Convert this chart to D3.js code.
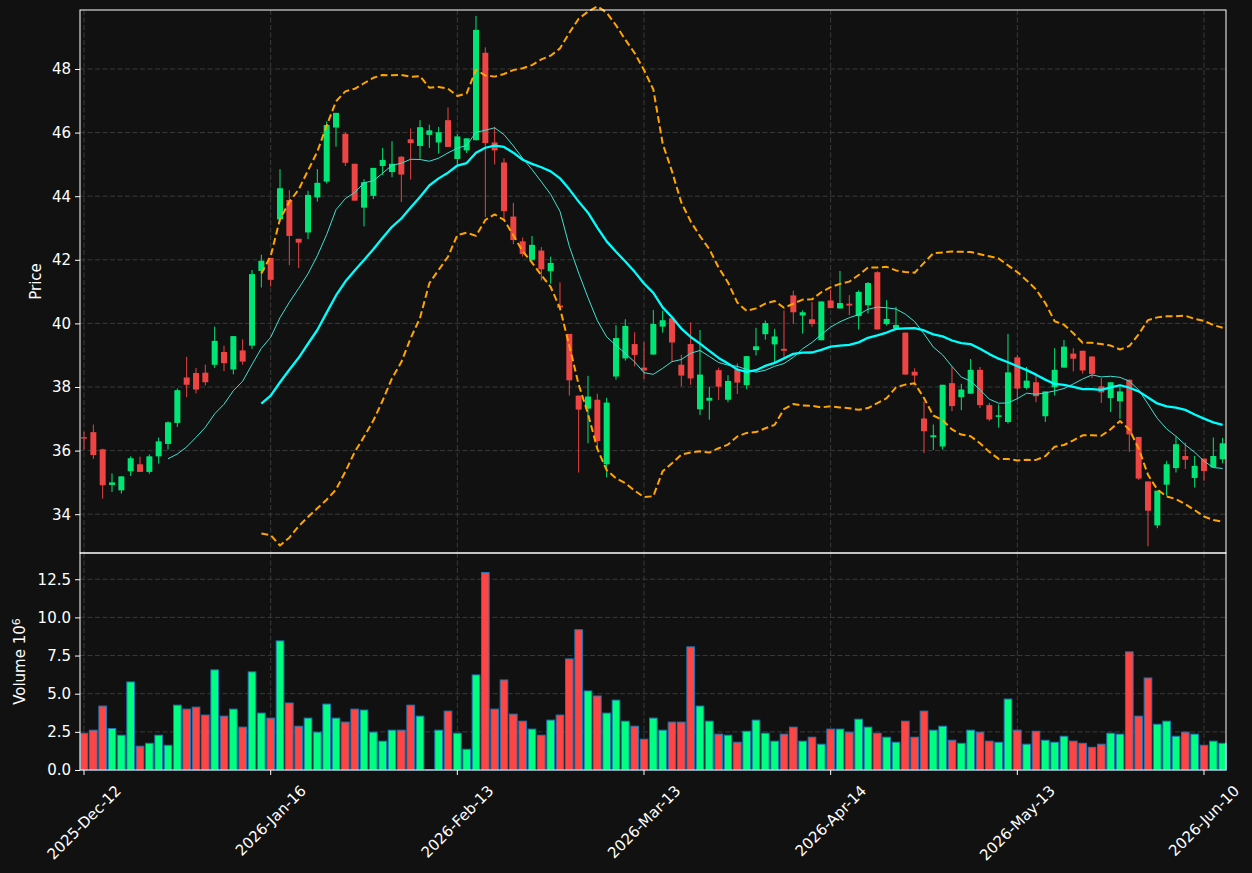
<!DOCTYPE html>
<html>
<head>
<meta charset="utf-8">
<script src="https://cdn.jsdelivr.net/npm/d3@7"></script>
<style>
  body { margin: 0; background: #111111; }
  text { font-family: "DejaVu Sans", sans-serif; }
</style>
</head>
<body>
<svg id="chart" width="1252" height="873"></svg>
<script>
// daily OHLC, 123 sessions
var opens = [36.42,36.58,36.04,34.92,34.75,35.35,35.57,35.33,35.82,36.21,
  36.87,38.30,38.44,38.45,38.70,39.10,38.55,39.15,39.30,41.65,
  42.06,43.27,43.88,42.66,42.86,43.96,44.46,46.16,45.96,45.02,
  43.64,44.01,44.95,44.76,45.24,45.79,45.58,45.93,45.69,46.39,
  45.17,45.44,45.76,48.51,45.69,45.06,43.36,42.58,42.00,42.29,
  41.64,40.56,39.67,37.73,37.32,37.60,35.57,38.33,38.90,39.35,
  38.61,39.02,39.90,40.16,38.70,39.35,37.30,37.57,38.53,37.60,
  38.55,38.06,39.16,39.66,39.34,39.20,40.88,40.25,40.13,39.47,
  40.72,40.47,40.62,40.23,40.57,41.61,39.98,39.84,39.71,38.48,
  37.01,36.42,36.13,38.12,37.68,37.79,38.54,37.43,37.06,36.90,
  38.93,37.97,38.15,37.08,37.99,38.61,39.05,39.14,38.96,38.02,
  37.65,37.55,38.23,36.43,35.03,33.65,34.93,35.45,35.83,35.14,
  35.75,35.47,35.73];

var highs = [36.59,36.82,36.06,35.28,35.19,35.82,35.81,35.88,36.41,36.92,
  37.95,38.95,38.60,38.70,39.90,39.30,39.60,39.50,41.68,42.16,
  42.06,44.85,44.19,42.66,44.17,44.85,46.35,46.62,46.00,45.02,
  44.53,44.89,45.52,45.73,45.26,46.13,46.39,46.25,46.18,46.79,
  45.95,45.82,49.67,48.68,46.18,45.19,43.79,42.70,42.75,42.40,
  42.10,41.29,39.67,37.73,38.35,37.79,37.66,39.94,40.13,39.72,
  39.41,40.42,40.40,40.16,39.01,40.03,39.79,38.01,38.61,38.37,
  38.74,38.97,39.86,40.09,39.83,40.41,41.03,40.41,40.67,40.69,
  41.05,41.65,40.89,41.04,41.30,41.64,40.73,40.52,39.71,38.59,
  37.55,36.82,38.07,38.65,38.10,38.88,38.63,37.50,37.45,39.67,
  39.01,38.63,38.35,37.86,39.22,39.48,39.22,39.14,38.96,38.28,
  38.15,38.07,38.23,36.43,35.03,34.74,35.68,36.44,36.25,35.83,
  35.75,36.41,36.40];

var lows = [36.03,35.74,34.49,34.70,34.65,35.20,35.33,35.27,35.59,36.03,
  36.74,37.68,37.80,38.05,38.60,38.50,38.40,38.70,39.20,41.13,
  41.16,43.20,41.83,41.74,42.65,43.83,44.40,45.56,44.95,43.86,
  43.05,43.91,44.67,44.60,43.82,44.52,45.18,45.52,45.34,45.55,
  45.00,45.36,45.76,43.34,45.00,43.23,42.49,42.10,41.95,41.35,
  41.25,40.50,37.73,35.31,36.23,36.04,35.16,38.23,38.83,38.65,
  38.25,39.02,39.71,38.80,38.02,38.07,37.12,36.97,37.59,37.52,
  37.78,37.93,38.99,39.49,38.79,38.95,39.99,39.68,39.89,39.47,
  40.48,40.47,40.26,39.81,40.31,39.81,39.93,39.84,38.39,38.12,
  35.92,36.02,36.03,37.24,37.27,37.79,37.34,36.93,36.72,36.85,
  37.60,37.92,37.52,36.90,37.73,38.61,38.49,38.42,38.28,37.50,
  37.21,37.00,35.96,35.08,32.99,33.56,34.58,35.31,35.42,34.84,
  35.05,35.47,35.60];

var closes = [36.38,35.86,34.91,35.00,35.19,35.76,35.33,35.82,36.29,36.89,
  37.90,38.07,37.92,38.15,39.45,38.75,39.60,38.80,41.55,41.97,
  41.37,44.25,42.75,42.54,44.04,44.42,46.24,46.62,45.05,43.86,
  44.44,44.89,45.14,45.02,44.68,45.67,46.17,46.07,46.01,45.55,
  45.88,45.82,49.23,45.67,45.44,43.53,42.62,42.18,42.47,41.70,
  41.90,40.50,38.21,37.29,37.70,36.30,37.51,39.54,39.92,39.01,
  38.52,39.98,40.10,39.40,38.36,38.27,38.39,37.66,38.01,38.19,
  38.14,38.97,39.28,40.01,39.59,39.14,40.35,40.35,39.98,40.69,
  40.48,40.64,40.56,40.99,41.27,39.81,40.14,39.95,38.39,38.36,
  36.61,36.48,38.07,37.40,37.92,38.54,37.43,36.98,37.11,38.46,
  37.95,38.20,37.71,37.86,38.54,39.27,38.89,38.52,38.41,37.83,
  38.15,37.86,36.51,35.12,34.11,34.74,35.57,36.20,35.71,35.52,
  35.36,35.83,36.23];

// volume in millions
var volumes = [2.41,2.61,4.19,2.72,2.28,5.77,1.56,1.75,2.28,1.62,
  4.25,3.99,4.12,3.60,6.56,3.53,3.99,2.81,6.43,3.73,
  3.40,8.46,4.39,2.87,3.40,2.48,4.32,3.40,3.14,3.99,
  3.93,2.48,1.89,2.61,2.61,4.25,3.53,0.02,2.61,3.86,
  2.41,1.36,6.23,12.94,3.99,5.90,3.66,3.20,2.68,2.28,
  3.27,3.60,7.28,9.19,5.18,4.85,3.73,4.58,3.20,2.87,
  2.02,3.40,2.61,3.14,3.14,8.07,4.19,3.20,2.35,2.28,
  1.82,2.54,3.27,2.41,1.89,2.35,2.81,1.89,2.15,1.69,
  2.68,2.68,2.48,3.33,2.81,2.41,2.15,1.82,3.20,2.15,
  3.86,2.61,2.87,1.95,1.75,2.61,2.48,1.89,1.82,4.65,
  2.61,1.69,2.54,1.95,1.82,2.21,1.89,1.75,1.49,1.69,
  2.41,2.35,7.74,3.53,6.03,3.00,3.20,2.21,2.48,2.35,
  1.62,1.89,1.75];

var tickIndex = [0, 20, 40, 60, 80, 100, 120];
var tickLabels = ['2025-Dec-12','2026-Jan-16','2026-Feb-13','2026-Mar-13','2026-Apr-14','2026-May-13','2026-Jun-10'];
var priceTicks = [34, 36, 38, 40, 42, 44, 46, 48];
var volTicks = [0, 2.5, 5, 7.5, 10, 12.5];

var upColor = '#00e676', downColor = '#ef4444';
var volUp = '#00ff80', volDown = '#ff4444';
var gridColor = '#3a3a3a';
var fontSize = '15px';

function sma(arr, w) {
  return arr.map(function(d, i) {
    if (i < w - 1) return null;
    return d3.mean(arr.slice(i - w + 1, i + 1));
  });
}
function band(arr, w, k) {
  return arr.map(function(d, i) {
    if (i < w - 1) return null;
    var s = arr.slice(i - w + 1, i + 1);
    var m = d3.mean(s);
    var sd = Math.sqrt(d3.mean(s, function(v) { return (v - m) * (v - m); }));
    return m + k * sd;
  });
}

var ma10 = sma(closes, 10);
var ma20 = sma(closes, 20);
var bbUp = band(closes, 20, 2);
var bbLo = band(closes, 20, -2);

var svg = d3.select('#chart');
svg.append('rect').attr('width', 1252).attr('height', 873).attr('fill', '#111111');

var left = 80, right = 1226;
var pTop = 10, pBot = 553, vTop = 553, vBot = 770;

var x = d3.scaleLinear().domain([-0.43, 122.36]).range([left, right]);
var yP = d3.scaleLinear().domain([32.78, 49.855]).range([pBot, pTop]);
var yV = d3.scaleLinear().domain([0, 14.22]).range([vBot, vTop]);
var step = x(1) - x(0);

function grid(g, yScale, ticks, top, bot) {
  g.selectAll('.hg').data(ticks).enter().append('line')
    .attr('x1', left).attr('x2', right)
    .attr('y1', function(d) { return yScale(d); })
    .attr('y2', function(d) { return yScale(d); })
    .attr('stroke', gridColor).attr('stroke-width', 1).attr('stroke-dasharray', '5,2.5');
  g.selectAll('.vg').data(tickIndex).enter().append('line')
    .attr('x1', function(d) { return x(d); }).attr('x2', function(d) { return x(d); })
    .attr('y1', top).attr('y2', bot)
    .attr('stroke', gridColor).attr('stroke-width', 1).attr('stroke-dasharray', '5,2.5');
}

var gPrice = svg.append('g');
grid(gPrice, yP, priceTicks, pTop, pBot);
var gVol = svg.append('g');
grid(gVol, yV, volTicks.slice(1), vTop, vBot);

var idx = d3.range(closes.length);

// wicks
gPrice.selectAll('.wick').data(idx).enter().append('line')
  .attr('x1', function(i) { return x(i); }).attr('x2', function(i) { return x(i); })
  .attr('y1', function(i) { return yP(highs[i]); })
  .attr('y2', function(i) { return yP(lows[i]); })
  .attr('stroke', function(i) { return closes[i] >= opens[i] ? upColor : downColor; })
  .attr('stroke-width', 1);

// bodies
var bw = step * 0.64;
gPrice.selectAll('.body').data(idx).enter().append('rect')
  .attr('x', function(i) { return x(i) - bw / 2; })
  .attr('width', bw)
  .attr('y', function(i) { return yP(Math.max(opens[i], closes[i])); })
  .attr('height', function(i) { return Math.max(1, Math.abs(yP(opens[i]) - yP(closes[i]))); })
  .attr('fill', function(i) { return closes[i] >= opens[i] ? upColor : downColor; });

// moving averages and bands
function drawLine(vals, color, width, dash) {
  var line = d3.line()
    .defined(function(d) { return d != null; })
    .x(function(d, i) { return x(i); })
    .y(function(d) { return yP(d); });
  var p = gPrice.append('path').datum(vals)
    .attr('d', line).attr('fill', 'none')
    .attr('stroke', color).attr('stroke-width', width)
    .attr('stroke-linejoin', 'round');
  if (dash) p.attr('stroke-dasharray', dash);
}
drawLine(ma10, '#40e0d0', 1, null);
drawLine(ma20, '#00ffff', 2.3, null);
drawLine(bbUp, '#ffa500', 2, '7,3.5');
drawLine(bbLo, '#ffa500', 2, '7,3.5');

// volume bars
var vw = step * 0.82;
gVol.selectAll('.vbar').data(idx).enter().append('rect')
  .attr('x', function(i) { return x(i) - vw / 2; })
  .attr('width', vw)
  .attr('y', function(i) { return yV(volumes[i]); })
  .attr('height', function(i) { return yV(0) - yV(volumes[i]); })
  .attr('fill', function(i) { return closes[i] >= opens[i] ? volUp : volDown; })
  .attr('stroke', '#1f77b4').attr('stroke-width', 1);

// frames
[[pTop, pBot], [vTop, vBot]].forEach(function(r) {
  svg.append('rect').attr('x', left).attr('y', r[0])
    .attr('width', right - left).attr('height', r[1] - r[0])
    .attr('fill', 'none').attr('stroke', '#ffffff').attr('stroke-width', 1);
});

// y axes
var yAxisP = d3.axisLeft(yP).tickValues(priceTicks).tickSize(5).tickPadding(4).tickFormat(d3.format('d'));
var yAxisV = d3.axisLeft(yV).tickValues(volTicks).tickSize(5).tickPadding(4).tickFormat(d3.format('.1f'));
[svg.append('g').attr('transform', 'translate(' + left + ',0)').call(yAxisP),
 svg.append('g').attr('transform', 'translate(' + left + ',0)').call(yAxisV)].forEach(function(g) {
  g.select('.domain').remove();
  g.selectAll('line').attr('stroke', '#ffffff');
  g.selectAll('text').attr('fill', '#ffffff').style('font-size', fontSize)
    .style('font-family', '"DejaVu Sans", sans-serif');
});

// x axis ticks
var gx = svg.append('g');
gx.selectAll('.xt').data(tickIndex).enter().append('line')
  .attr('x1', function(d) { return x(d); }).attr('x2', function(d) { return x(d); })
  .attr('y1', vBot).attr('y2', vBot + 5).attr('stroke', '#ffffff');
tickIndex.forEach(function(d, k) {
  var g = gx.append('g');
  var t = g.append('text').text(tickLabels[k])
    .attr('fill', '#ffffff').style('font-size', fontSize)
    .attr('text-anchor', 'middle').attr('dy', '0.35em');
  var w = t.node().getComputedTextLength();
  var half = (w + 17) * Math.SQRT1_2 / 2;
  g.attr('transform', 'translate(' + x(d) + ',' + (782 + half) + ') rotate(-45)');
});

// axis labels
svg.append('text').attr('transform', 'translate(41,' + ((pTop + pBot) / 2) + ') rotate(-90)')
  .attr('text-anchor', 'middle').attr('fill', '#ffffff').style('font-size', fontSize).text('Price');
var vl = svg.append('text').attr('transform', 'translate(25,' + ((vTop + vBot) / 2) + ') rotate(-90)')
  .attr('text-anchor', 'middle').attr('fill', '#ffffff').style('font-size', fontSize);
vl.append('tspan').text('Volume  10');
vl.append('tspan').attr('dy', '-0.5em').style('font-size', '11px').text('6');
</script>
</body>
</html>
